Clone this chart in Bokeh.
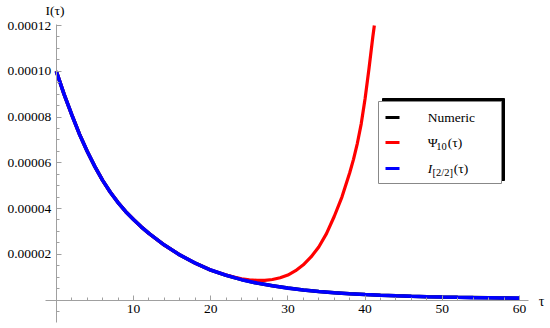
from bokeh.plotting import figure
from bokeh.models import Range1d, FixedTicker, PrintfTickFormatter
from bokeh.core.properties import value
from bokeh.embed import file_html
from bokeh.resources import INLINE

# ---------------- data ----------------
tau_num = [0, 1, 2, 3, 4, 5, 6, 7, 8, 9, 10, 11, 12, 14, 16, 18, 20, 22, 24, 26, 28,
           30, 32, 34, 36, 38, 40, 42, 44, 46, 48, 50, 52, 54, 56, 58, 60]
i_num = [100, 90, 81, 72.5, 65, 58.3, 52.3, 47.1, 42.6, 38.6, 35.2, 32.0, 29.1, 24.0,
         19.7, 16.1, 13.1, 10.8, 8.9, 7.4, 6.2, 5.2, 4.4, 3.75, 3.2, 2.75, 2.4, 2.1,
         1.85, 1.63, 1.45, 1.3, 1.17, 1.06, 0.96, 0.87, 0.8]          # x 1e-6

tau_pade = tau_num
i_pade = i_num                                                        # x 1e-6

tau_psi = [0, 1, 2, 3, 4, 5, 6, 7, 8, 9, 10, 11, 12, 14, 16, 18, 20, 21, 22, 23, 24,
           25, 26, 27, 28, 29, 30, 31, 32, 33, 34, 35, 36, 37, 38, 38.5, 39, 39.5,
           40, 40.5, 41, 41.2]
i_psi = [100, 90, 81, 72.5, 65, 58.3, 52.3, 47.1, 42.6, 38.6, 35.2, 32.0, 29.1, 24.0,
         19.7, 16.1, 13.1, 12.0, 10.9, 10.0, 9.3, 8.8, 8.55, 8.6, 8.95, 9.7, 10.9,
         12.8, 15.4, 18.8, 23.2, 29.0, 36.5, 45.0, 55.5, 61.5, 68.5, 77.0, 88.0,
         101.0, 115.0, 120.0]                                          # x 1e-6

x_ticks = [10, 20, 30, 40, 50, 60]
y_ticks = [2e-5, 4e-5, 6e-5, 8e-5, 1e-4, 1.2e-4]
legend_labels = ["Numeric", "\u03a8", "10", "(\u03c4)", "I", "[2/2]", "(\u03c4)"]

scale = 1e-6
i_num_v = [v * scale for v in i_num]
i_pade_v = [v * scale for v in i_pade]
i_psi_v = [v * scale for v in i_psi]

# ---------------- figure geometry ----------------
W, H = 550, 328
x_start, x_end = -7.228, 64.02
y_start, y_end = -1.2459e-5, 1.30929e-4
PXX = W / (x_end - x_start)
PXY = H / (y_end - y_start)


def X(px):
    return x_start + px / PXX


def Y(py):
    return y_end - py / PXY


FONT_NAME = "Liberation Serif"
FONT = value(FONT_NAME)
AX = "#a0a0a0"

p = figure(width=W, height=H, x_range=Range1d(x_start, x_end),
           y_range=Range1d(y_start, y_end), output_backend="svg",
           toolbar_location=None, min_border=0)
p.grid.visible = False
p.outline_line_color = None
p.background_fill_color = "white"
p.border_fill_color = "white"

# axes through the origin
p.xaxis.fixed_location = 0
p.yaxis.fixed_location = 0
p.xaxis.bounds = (-1.4, 61.2)
p.yaxis.bounds = (-1.0e-5, 1.205e-4)

x_minor = [m * 2 for m in range(1, 31) if (m * 2) % 10 != 0]
y_minor = [k * 5e-6 for k in range(-1, 24) if k % 4 != 0]
p.xaxis.ticker = FixedTicker(ticks=x_ticks, minor_ticks=x_minor)
p.yaxis.ticker = FixedTicker(ticks=y_ticks, minor_ticks=y_minor)
p.yaxis.formatter = PrintfTickFormatter(format="%.5f")

for ax in (p.xaxis, p.yaxis):
    ax.axis_line_color = AX
    ax.major_tick_line_color = AX
    ax.minor_tick_line_color = AX
    ax.major_tick_in = 5
    ax.major_tick_out = 0
    ax.minor_tick_in = 3
    ax.minor_tick_out = 0
    ax.major_label_text_font = FONT_NAME
    ax.major_label_text_font_size = "13.5px"
    ax.major_label_text_color = "black"
    ax.major_label_standoff = 5

# curves (drawn in the order of the legend)
p.line(tau_num, i_num_v, line_color="black", line_width=3.5)
p.line(tau_psi, i_psi_v, line_color="#ff0000", line_width=3.2)
p.line(tau_pade, i_pade_v, line_color="#0000ff", line_width=3.6)

# axis labels
p.text(x=[X(54.5)], y=[Y(10)], text=["I(\u03c4)"], text_font=FONT,
       text_font_size="13.5px", text_align="center", text_baseline="middle",
       text_color="black")
p.text(x=[X(541)], y=[Y(301)], text=["\u03c4"], text_font=FONT,
       text_font_size="14px", text_align="center", text_baseline="middle",
       text_color="black")

# legend (drawn by hand for the sub-scripted labels)
p.quad(left=[X(382)], right=[X(504)], top=[Y(98)], bottom=[Y(180)],
       fill_color="black", line_color="black")
p.quad(left=[X(378)], right=[X(501)], top=[Y(101)], bottom=[Y(183)],
       fill_color="white", line_color="#888888", line_width=1)

rows = [117, 142, 168]
colors = ["black", "#ff0000", "#0000ff"]
p.segment(x0=[X(385)] * 3, x1=[X(399)] * 3, y0=[Y(r) for r in rows],
          y1=[Y(r) for r in rows], line_color=colors, line_width=3)

main_x = [X(427.3), X(427.3), X(447.3), X(427.3), X(453.3)]
main_y = [Y(rows[0]), Y(rows[1]), Y(rows[1]), Y(rows[2]), Y(rows[2])]
main_t = [legend_labels[0], legend_labels[1], legend_labels[3], legend_labels[4],
          legend_labels[6]]
p.text(x=main_x[:3], y=main_y[:3], text=main_t[:3], text_font=FONT,
       text_font_size="13.5px", text_align="left", text_baseline="middle",
       text_color="black")
p.text(x=[main_x[3]], y=[main_y[3]], text=[main_t[3]], text_font=FONT,
       text_font_style="italic", text_font_size="13.5px", text_align="left",
       text_baseline="middle", text_color="black")
p.text(x=[main_x[4]], y=[main_y[4]], text=[main_t[4]], text_font=FONT,
       text_font_size="13.5px", text_align="left", text_baseline="middle",
       text_color="black")
p.text(x=[X(435.7), X(432.0)], y=[Y(rows[1] + 4), Y(rows[2] + 4)],
       text=[legend_labels[2], legend_labels[5]], text_font=FONT,
       text_font_size="10.5px", text_align="left", text_baseline="middle",
       text_color="black")

open("out.html", "w").write(file_html(p, INLINE))
